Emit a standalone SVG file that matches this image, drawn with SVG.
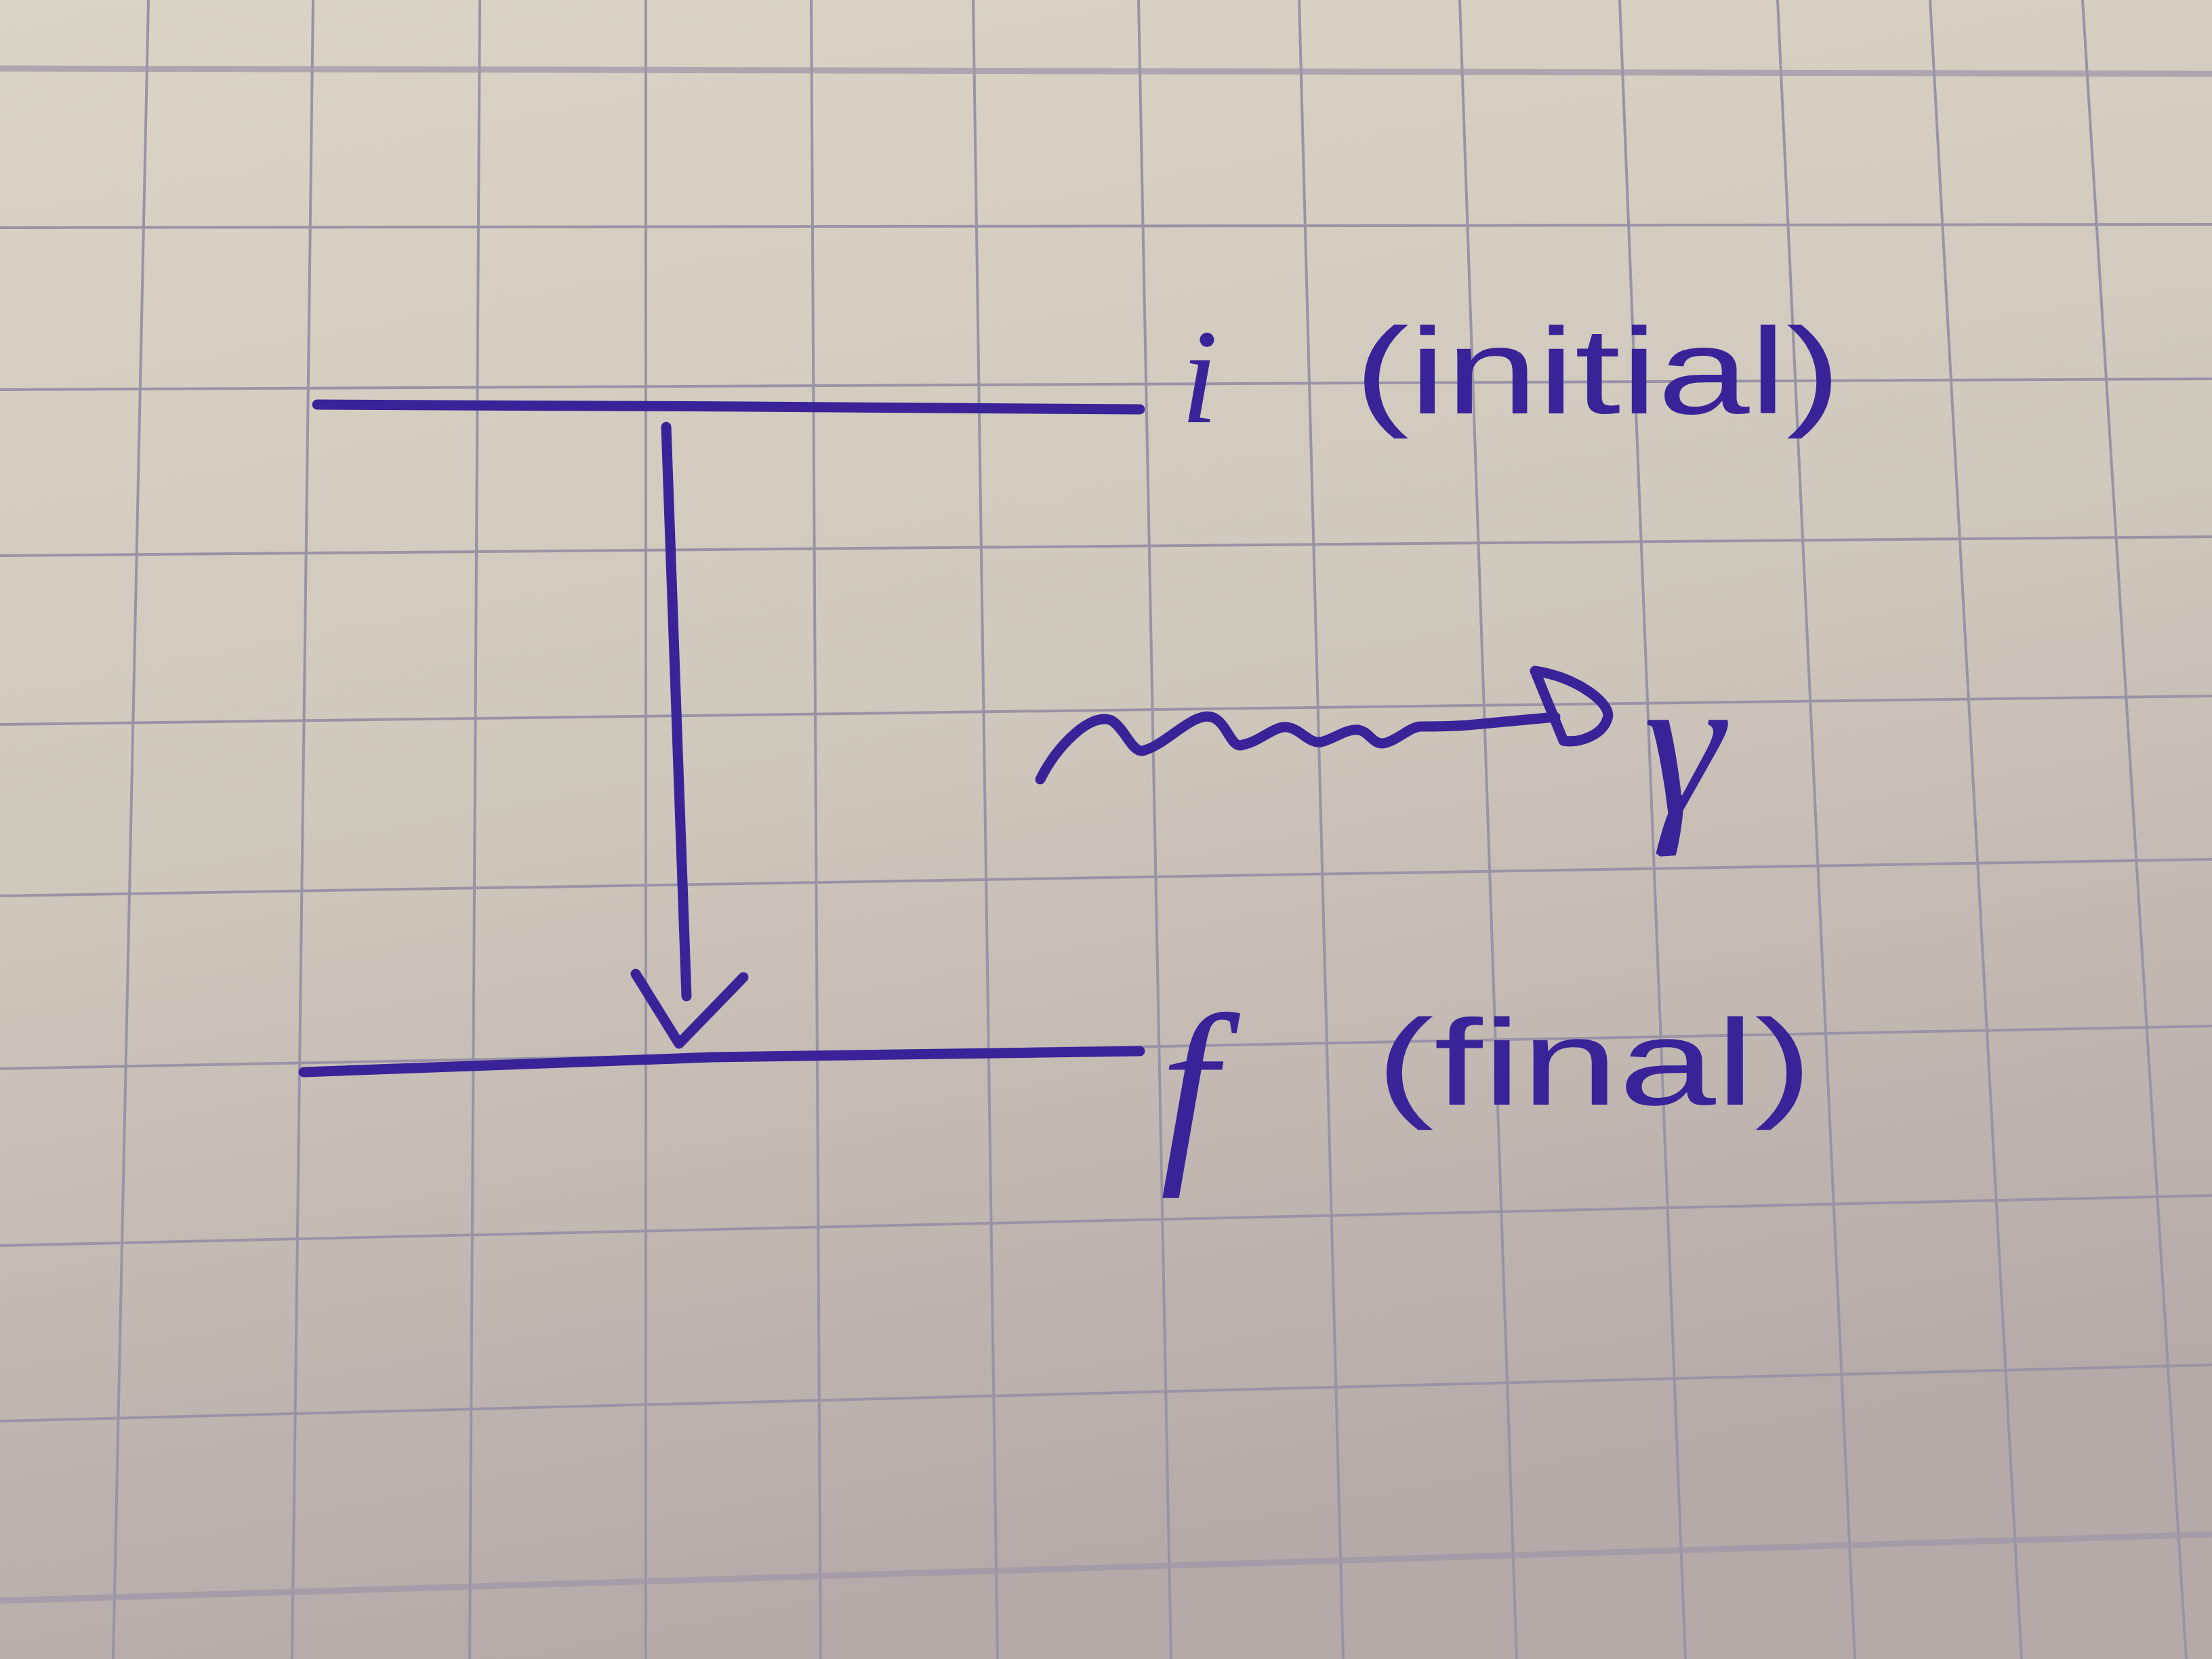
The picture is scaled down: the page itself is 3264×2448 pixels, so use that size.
<svg xmlns="http://www.w3.org/2000/svg" width="3264" height="2448" viewBox="0 0 3264 2448">
  <style>
    .grid { stroke: #9993a6; stroke-width: 4; fill: none; }
    .blur { stroke: #9d97a8; stroke-width: 9; opacity: 0.75; fill: none; }
    .ink { stroke: #3a2398; stroke-width: 15; stroke-linecap: round; stroke-linejoin: round; fill: none; }
    .label { fill: #3a2398; font-family: "Liberation Sans", Arial, sans-serif; font-size: 180px; }
    .sym { fill: #3a2398; font-family: "Liberation Serif", "DejaVu Serif", serif; font-style: italic; }
  </style>
  <defs>
    <linearGradient id="paper" x1="0" y1="0" x2="0.25" y2="1">
      <stop offset="0" stop-color="#dad4c6"/>
      <stop offset="0.5" stop-color="#cfc8bc"/>
      <stop offset="1" stop-color="#b5aaa8"/>
    </linearGradient>
  </defs>
  <rect x="0" y="0" width="3264" height="2448" fill="url(#paper)"/>
  <g id="grid">
    <line class="grid" x1="219" y1="0" x2="167" y2="2448"/>
    <line class="grid" x1="462" y1="0" x2="431" y2="2448"/>
    <line class="grid" x1="708" y1="0" x2="693" y2="2448"/>
    <line class="grid" x1="953" y1="0" x2="953" y2="2448"/>
    <line class="grid" x1="1197" y1="0" x2="1211" y2="2448"/>
    <line class="grid" x1="1436" y1="0" x2="1472" y2="2448"/>
    <line class="grid" x1="1680" y1="0" x2="1728" y2="2448"/>
    <line class="grid" x1="1917" y1="0" x2="1982" y2="2448"/>
    <line class="grid" x1="2154" y1="0" x2="2238" y2="2448"/>
    <line class="grid" x1="2390" y1="0" x2="2487" y2="2448"/>
    <line class="grid" x1="2623" y1="0" x2="2737" y2="2448"/>
    <line class="grid" x1="2848" y1="0" x2="2983" y2="2448"/>
    <line class="grid" x1="3073" y1="0" x2="3226" y2="2448"/>
    <line class="blur" x1="0" y1="101" x2="3264" y2="109"/>
    <line class="grid" x1="0" y1="336" x2="3264" y2="331"/>
    <line class="grid" x1="0" y1="575" x2="3264" y2="559"/>
    <line class="grid" x1="0" y1="820" x2="3264" y2="792"/>
    <line class="grid" x1="0" y1="1069" x2="3264" y2="1027"/>
    <line class="grid" x1="0" y1="1322" x2="3264" y2="1268"/>
    <line class="grid" x1="0" y1="1577" x2="3264" y2="1514"/>
    <line class="grid" x1="0" y1="1838" x2="3264" y2="1764"/>
    <line class="grid" x1="0" y1="2097" x2="3264" y2="2014"/>
    <line class="blur" x1="0" y1="2362" x2="3264" y2="2264"/>
  </g>

  <g id="level-i">
    <path class="ink" d="M468,597 L1100,600 L1682,604"/>
    <text class="sym" x="1742" y="623" font-size="200">i</text>
    <text class="label" x="1998" y="610" textLength="719" lengthAdjust="spacingAndGlyphs">(initial)</text>
  </g>

  <g id="level-f">
    <path class="ink" d="M448,1582 L1050,1560 L1682,1551"/>
    <text class="sym" x="1712" y="1704" font-size="300">f</text>
    <text class="label" x="2030" y="1630" textLength="645" lengthAdjust="spacingAndGlyphs">(final)</text>
  </g>

  <g id="photon">
    <path class="ink" d="M1535,1150 C1560,1100 1610,1050 1640,1063 C1660,1075 1670,1110 1686,1108 C1720,1100 1760,1050 1788,1058 C1810,1065 1815,1100 1830,1100 C1860,1095 1880,1070 1900,1073 C1920,1076 1930,1097 1949,1095 C1970,1090 1985,1075 2005,1077 C2020,1080 2025,1097 2040,1097 C2060,1095 2080,1072 2096,1072 C2120,1072 2140,1072 2166,1070 L2295,1058"/>
    <path class="ink" d="M2265,990 L2307,1093 C2330,1097 2365,1085 2372,1060 C2380,1040 2330,1000 2265,990 Z"/>
    <text class="sym" x="2425" y="1200" font-size="300">γ</text>
  </g>

  <g id="connectors">
    <path class="ink" d="M983,630 L998,1050 L1013,1470"/>
    <path class="ink" d="M938,1437 L1002,1540 L1097,1442"/>
  </g>
</svg>
